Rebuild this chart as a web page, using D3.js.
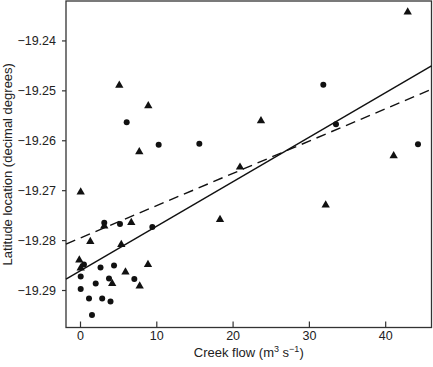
<!DOCTYPE html>
<html>
<head>
<meta charset="utf-8">
<script src="https://cdn.jsdelivr.net/npm/d3@7"></script>
<style>
  body { margin: 0; background: #fff; }
  svg { display: block; font-family: "Liberation Sans", Arial, sans-serif; }
</style>
</head>
<body>
<svg id="chart" width="433" height="367"></svg>
<script>
// creek flow (m3 s-1) and latitude for the two point groups
const circleFlow = [6.12, 10.31, 15.64, 31.89, 33.55, 44.3, 3.18, 5.24, 9.48, 0.52, 0.09,
  2.69, 4.46, 2.06, 3.8, 7.12, 0.09, 1.18, 2.91, 4.0, 1.57];
const circleLat = [-19.2564, -19.2609, -19.2607, -19.2489, -19.2568, -19.2608, -19.2765,
  -19.2768, -19.2774, -19.2849, -19.2873, -19.2855, -19.2851, -19.2887, -19.2877, -19.2878,
  -19.2898, -19.2917, -19.2917, -19.2923, -19.295];

const triFlow = [42.95, 5.15, 8.95, 7.77, 23.72, 20.97, 41.11, 32.2, 18.35, 0.09, 3.18,
  6.72, 1.35, 5.41, -0.09, 0.09, 5.96, 8.91, 4.22, 7.82];
const triLat = [-19.2343, -19.249, -19.2531, -19.2623, -19.2561, -19.2654, -19.2631,
  -19.273, -19.2759, -19.2704, -19.2772, -19.2765, -19.2803, -19.2809, -19.284, -19.2856,
  -19.2864, -19.2849, -19.2887, -19.2892];

// fitted lines: intercept, slope
const fitNames = ["solid", "dashed"];
const fitIntercept = [-19.2862, -19.2796];
const fitSlope = [0.000892, 0.000647];

const xTicks = [0, 10, 20, 30, 40];
const yTicks = [-19.24, -19.25, -19.26, -19.27, -19.28, -19.29];

const margin = { top: 1, right: 1.5, bottom: 39.5, left: 66 };
const width = 433, height = 367;

const svg = d3.select("#chart");

const x = d3.scaleLinear().domain([-1.835, 46.07])
  .range([margin.left, width - margin.right]);
const y = d3.scaleLinear().domain([-19.29751, -19.2321])
  .range([height - margin.bottom, margin.top]);

//x axis, ticks point inward
const xAxis = svg.append("g")
  .attr("transform", `translate(0,${height - margin.bottom})`)
  .call(d3.axisBottom(x).tickValues(xTicks).tickSize(-6).tickSizeOuter(0).tickPadding(4));
xAxis.select(".domain").remove();

//y axis, ticks point outward
const yAxis = svg.append("g")
  .attr("transform", `translate(${margin.left},0)`)
  .call(d3.axisLeft(y).tickValues(yTicks).tickFormat(d3.format(".2f")).tickSize(4).tickSizeOuter(0).tickPadding(6));
yAxis.select(".domain").remove();

svg.selectAll(".tick line").attr("stroke", "#333").attr("stroke-width", 1.2);
svg.selectAll(".tick text").attr("fill", "#222").style("font-size", "12.5px")
  .style("font-family", "'Liberation Sans', Arial, sans-serif");

//frame round the plot
svg.append("rect")
  .attr("x", margin.left)
  .attr("y", margin.top)
  .attr("width", width - margin.left - margin.right)
  .attr("height", height - margin.top - margin.bottom)
  .attr("fill", "none")
  .attr("stroke", "#333")
  .attr("stroke-width", 1.3);

const plot = svg.append("g");

//regression lines
const [x0, x1] = x.domain();
fitNames.forEach((name, i) => {
  plot.append("line")
    .attr("x1", x(x0)).attr("y1", y(fitIntercept[i] + fitSlope[i] * x0))
    .attr("x2", x(x1)).attr("y2", y(fitIntercept[i] + fitSlope[i] * x1))
    .attr("stroke", "#111")
    .attr("stroke-width", 1.4)
    .attr("stroke-dasharray", name === "dashed" ? "10,6" : null);
});

//circles
plot.selectAll("circle.pt")
  .data(d3.zip(circleFlow, circleLat))
  .enter()
  .append("circle")
  .attr("class", "pt")
  .attr("cx", d => x(d[0]))
  .attr("cy", d => y(d[1]))
  .attr("r", 3)
  .attr("fill", "#111");

//triangles
plot.selectAll("path.tri")
  .data(d3.zip(triFlow, triLat))
  .enter()
  .append("path")
  .attr("class", "tri")
  .attr("d", d3.symbol(d3.symbolTriangle, 30))
  .attr("transform", d => `translate(${x(d[0])},${y(d[1])})`)
  .attr("fill", "#111");

//axis titles
const xTitle = svg.append("text")
  .attr("x", (margin.left + width - margin.right) / 2)
  .attr("y", 357)
  .attr("text-anchor", "middle")
  .attr("fill", "#222")
  .style("font-size", "13px");
xTitle.append("tspan").text("Creek flow (m");
xTitle.append("tspan").attr("dy", -5).style("font-size", "9px").text("3");
xTitle.append("tspan").attr("dy", 5).text(" s");
xTitle.append("tspan").attr("dy", -5).style("font-size", "9px").text("\u22121");
xTitle.append("tspan").attr("dy", 5).text(")");

svg.append("text")
  .attr("transform", `translate(12,${(margin.top + height - margin.bottom) / 2}) rotate(-90)`)
  .attr("text-anchor", "middle")
  .attr("fill", "#222")
  .style("font-size", "13px")
  .text("Latitude location (decimal degrees)");
</script>
</body>
</html>
